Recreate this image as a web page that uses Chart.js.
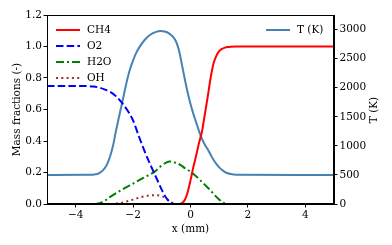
<!DOCTYPE html>
<html>
<head>
<meta charset="utf-8">
<script src="https://cdn.jsdelivr.net/npm/chart.js@4.4.1/dist/chart.umd.min.js"></script>
<style>
  html, body { margin: 0; padding: 0; background: #fff; }
  #wrap { width: 392px; height: 245px; }
</style>
</head>
<body>
<div id="wrap"><canvas id="chart"></canvas></div>
<script>
// valores
const xTicks = [-4, -2, 0, 2, 4];
const massTicks = [0, 0.2, 0.4, 0.6, 0.8, 1.0, 1.2];
const tempTicks = [0, 500, 1000, 1500, 2000, 2500, 3000];

const xCH4 = [-5, -0.4, -0.35, -0.3, -0.2, -0.1, 0, 0.1, 0.2, 0.3, 0.4, 0.5, 0.6, 0.7, 0.8, 0.9, 1.0, 1.1, 1.2, 1.3, 1.4, 1.6, 5];
const ch4  = [0, 0, 0.002, 0.006, 0.025, 0.075, 0.15, 0.235, 0.31, 0.39, 0.46, 0.57, 0.68, 0.8, 0.89, 0.94, 0.97, 0.985, 0.993, 0.997, 0.999, 1.0, 1.0];

const xO2 = [-5, -4, -3.6, -3.4, -3.2, -3.0, -2.8, -2.6, -2.4, -2.2, -2.0, -1.8, -1.6, -1.4, -1.2, -1.0, -0.85, -0.7, -0.6, -0.55, 5];
const o2  = [0.75, 0.75, 0.749, 0.746, 0.74, 0.728, 0.712, 0.685, 0.645, 0.595, 0.53, 0.43, 0.335, 0.25, 0.17, 0.09, 0.04, 0.01, 0.002, 0, 0];

const xH2O = [-5, -3.3, -3.2, -3.1, -2.95, -2.8, -2.4, -2.0, -1.6, -1.25, -1.0, -0.85, -0.72, -0.55, -0.37, -0.2, 0, 0.33, 0.5, 0.68, 0.85, 1.02, 1.1, 1.2, 1.3, 5];
const h2o  = [0, 0, 0.004, 0.01, 0.025, 0.045, 0.09, 0.13, 0.17, 0.205, 0.245, 0.263, 0.27, 0.264, 0.25, 0.228, 0.205, 0.153, 0.122, 0.09, 0.055, 0.025, 0.012, 0.004, 0, 0];

const xOH = [-5, -2.8, -2.5, -2.2, -2.0, -1.8, -1.6, -1.4, -1.2, -1.0, -0.85, -0.7, -0.6, -0.5, 5];
const oh  = [0, 0, 0.005, 0.017, 0.028, 0.04, 0.049, 0.055, 0.056, 0.05, 0.035, 0.015, 0.004, 0, 0];

const xT = [-5, -3.6, -3.4, -3.25, -3.1, -3.0, -2.9, -2.8, -2.7, -2.6, -2.5, -2.4, -2.3, -2.2, -2.1, -2.0, -1.9, -1.8, -1.6, -1.4, -1.2, -1.05, -0.9, -0.75, -0.6, -0.5, -0.4, -0.3, -0.2, -0.1, 0, 0.1, 0.2, 0.3, 0.4, 0.5, 0.6, 0.7, 0.8, 0.9, 1.0, 1.1, 1.2, 1.3, 1.4, 1.5, 1.7, 5];
const tempK = [500, 501, 505, 515, 560, 610, 690, 820, 1000, 1250, 1480, 1700, 1930, 2150, 2330, 2470, 2590, 2680, 2820, 2910, 2960, 2975, 2965, 2935, 2870, 2790, 2640, 2400, 2150, 1920, 1720, 1550, 1400, 1250, 1120, 1020, 940, 850, 760, 690, 630, 585, 550, 528, 515, 507, 501, 500];

const pts = (xs, ys) => xs.map((x, i) => ({ x: x, y: ys[i] }));

const fonte = { family: 'DejaVu Serif', size: 10.5 };
const menos = v => String(v).replace('-', '\u2212');

const eixoComum = {
  grid: { drawOnChartArea: false, drawTicks: true, tickLength: 3.5, color: '#000', lineWidth: 1 },
  border: { color: '#000', width: 1 }
};

// moldura, legendas e título do eixo direito
const extras = {
  id: 'extras',
  afterDraw(chart) {
    const ctx = chart.ctx;
    const a = chart.chartArea;
    ctx.save();
    ctx.strokeStyle = '#000';
    ctx.lineWidth = 1;
    ctx.strokeRect(Math.round(a.left) + 0.5, Math.round(a.top) + 0.5,
                   Math.round(a.right - a.left) - 1, Math.round(a.bottom - a.top) - 1);

    ctx.font = '10.5px "DejaVu Serif"';
    ctx.textBaseline = 'middle';
    ctx.fillStyle = '#000';
    const desenha = (ds, x0, y) => {
      ctx.save();
      ctx.strokeStyle = ds.borderColor;
      ctx.lineWidth = ds.borderWidth;
      ctx.setLineDash(ds.borderDash || []);
      ctx.beginPath();
      ctx.moveTo(x0, y);
      ctx.lineTo(x0 + 24, y);
      ctx.stroke();
      ctx.restore();
      ctx.fillText(ds.label, x0 + 31, y + 0.5);
    };
    const dsets = chart.data.datasets;
    [0, 1, 2, 3].forEach((k, i) => desenha(dsets[k], 56, 30 + i * 16));
    desenha(dsets[4], 266, 30);

    ctx.translate(374, 110);
    ctx.rotate(-Math.PI / 2);
    ctx.textAlign = 'center';
    ctx.fillText('T (K)', 0, 0);
    ctx.restore();
  }
};

new Chart(document.getElementById('chart'), {
  type: 'line',
  data: {
    datasets: [
      { label: 'CH4', data: pts(xCH4, ch4), borderColor: '#ff0000', borderWidth: 2, yAxisID: 'y' },
      { label: 'O2', data: pts(xO2, o2), borderColor: '#0000ff', borderWidth: 2, borderDash: [7.5, 3.2], yAxisID: 'y' },
      { label: 'H2O', data: pts(xH2O, h2o), borderColor: '#008000', borderWidth: 2, borderDash: [8, 3, 2, 3], yAxisID: 'y' },
      { label: 'OH', data: pts(xOH, oh), borderColor: '#a52a2a', borderWidth: 2, borderDash: [2, 3.3], yAxisID: 'y' },
      { label: 'T (K)', data: pts(xT, tempK), borderColor: '#4682b4', borderWidth: 2, yAxisID: 'yT' }
    ]
  },
  options: {
    responsive: true,
    maintainAspectRatio: false,
    animation: false,
    layout: { padding: { top: 15, left: 0, right: 0, bottom: 0 } },
    elements: {
      point: { radius: 0 },
      line: { cubicInterpolationMode: 'monotone', fill: false }
    },
    plugins: { legend: { display: false }, tooltip: { enabled: false } },
    scales: {
      x: {
        ...eixoComum,
        type: 'linear', min: -5, max: 5,
        afterBuildTicks: s => { s.ticks = xTicks.map(v => ({ value: v })); },
        afterFit: s => { s.height = 41; },
        ticks: { font: fonte, color: '#000', maxRotation: 0, padding: 1.5, callback: menos },
        title: { display: true, text: 'x (mm)', font: fonte, color: '#000', padding: { top: 0, bottom: 9 } }
      },
      y: {
        ...eixoComum,
        position: 'left', min: 0, max: 1.2,
        afterBuildTicks: s => { s.ticks = massTicks.map(v => ({ value: v })); },
        afterFit: s => { s.width = 47; },
        ticks: { font: fonte, color: '#000', padding: 1.5, callback: v => v.toFixed(1) },
        title: { display: true, text: 'Mass fractions (-)', font: fonte, color: '#000', padding: { top: 11, bottom: 0 } }
      },
      yT: {
        ...eixoComum,
        position: 'right', min: 0, max: 3250,
        afterBuildTicks: s => { s.ticks = tempTicks.map(v => ({ value: v })); },
        afterFit: s => { s.width = 58; },
        ticks: { font: fonte, color: '#000', padding: 2, callback: v => String(v) }
      }
    }
  },
  plugins: [extras]
});
</script>
</body>
</html>
